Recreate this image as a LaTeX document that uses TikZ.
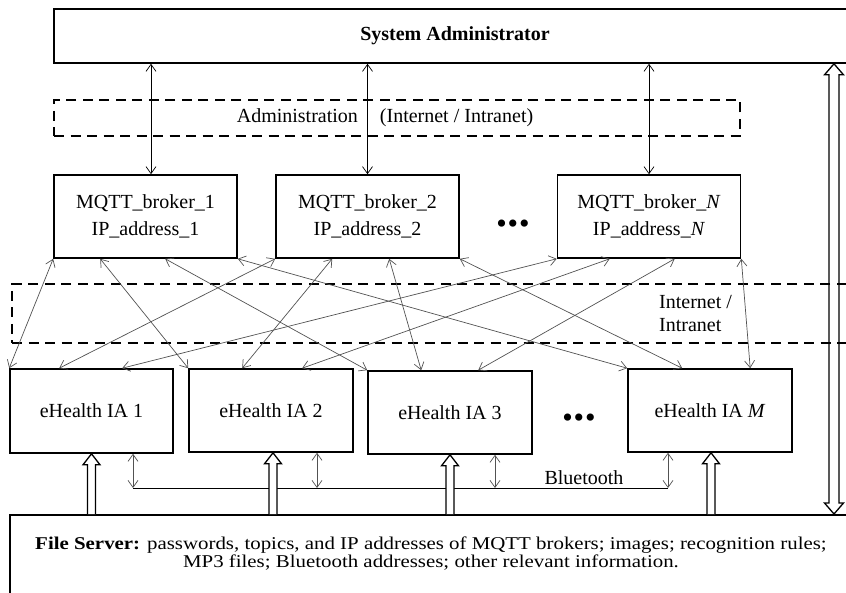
\documentclass[tikz,border=0pt]{standalone}
\usepackage{fontspec}
\setmainfont{Liberation Serif}
\usepackage{graphicx}
\usetikzlibrary{arrows.meta,calc}
\newcommand{\hollowup}[2]{%
  \draw[hollow, fill=white] ($(#1)+(-4,0)$) -- ($(#2)+(-4,11)$) -- ($(#2)+(-8.5,11)$) -- (#2) -- ($(#2)+(8.5,11)$) -- ($(#2)+(4,11)$) -- ($(#1)+(4,0)$);}
\newcommand{\hollowboth}[2]{%
  \draw[hollow] ($(#1)+(-5,-11)$) -- ($(#2)+(-5,11)$) -- ($(#2)+(-9.5,11)$) -- (#2) -- ($(#2)+(9.5,11)$) -- ($(#2)+(5,11)$) -- ($(#1)+(5,-11)$) -- ($(#1)+(9.5,-11)$) -- (#1) -- ($(#1)+(-9.5,-11)$) -- cycle;}
\begin{document}
\begin{tikzpicture}[x=1pt,y=-1pt,
  box/.style={draw, line width=1.6pt, inner sep=0pt, align=center, font=\fontsize{20}{27}\selectfont},
  zone/.style={draw, line width=2.6pt, dash pattern=on 10pt off 6.5pt, inner sep=0pt},
  txt/.style={inner sep=0pt, font=\fontsize{20}{23}\selectfont},
  dots/.style={inner sep=0pt, font=\fontsize{30}{30}\selectfont},
  bi/.style={line width=0.7pt, {Straight Barb[length=7pt,width=10pt]}-{Straight Barb[length=7pt,width=10pt]}},
  cross/.style={bi, draw=black!68},
  hollow/.style={line width=1.3pt, line join=miter}]
\useasboundingbox (0,0) rectangle (846,593);
\clip (0,0) rectangle (846,593);

% zones
\node[zone, minimum width=686pt, minimum height=36pt] (adm) at (397,118) {};
\node[txt] (admt) at (385,118) {Administration\hspace{22pt}(Internet / Intranet)};
\node[zone, minimum width=858pt, minimum height=59pt] (inet) at (441,313.5) {};
\node[txt, align=left, anchor=west] (inett) at (659,313.5) {Internet /\\Intranet};

% boxes
\node[box, minimum width=802pt, minimum height=54pt] (sa) at (455,36) {\textbf{System Administrator}};
\node[box, minimum width=183pt, minimum height=83pt] (b1) at (145.5,216.5) {MQTT\_broker\_1\\IP\_address\_1};
\node[box, minimum width=183pt, minimum height=83pt] (b2) at (367.5,216.5) {MQTT\_broker\_2\\IP\_address\_2};
\node[box, minimum width=183pt, minimum height=83pt] (bN) at (649,216.5) {MQTT\_broker\_\textit{N}\\IP\_address\_\textit{N}};
\node[dots] (d1) at (513,227) {•\hspace{1pt}•\hspace{1pt}•};

\node[box, minimum width=163pt, minimum height=84pt] (ia1) at (91.5,411) {eHealth IA 1};
\node[box, minimum width=164pt, minimum height=83pt] (ia2) at (271,410.5) {eHealth IA 2};
\node[box, minimum width=164pt, minimum height=83pt] (ia3) at (450,412.5) {eHealth IA 3};
\node[box, minimum width=164pt, minimum height=83pt] (iam) at (710,410.5) {eHealth IA \textit{M}};
\node[dots] (d2) at (579,421) {•\hspace{1pt}•\hspace{1pt}•};

\node[draw, line width=1.6pt, minimum width=839pt, minimum height=120pt, anchor=north west, inner sep=0pt] (fs) at (9,514) {};
\node[inner sep=0pt, font=\fontsize{18}{17}\selectfont] (fst) at (431,555) {\scalebox{1.16}[1]{\begin{tabular}{@{}c@{}}\textbf{File Server:} passwords, topics, and IP addresses of MQTT brokers; images; recognition rules;\\ MP3 files; Bluetooth addresses; other relevant information.\end{tabular}}};

% admin arrows
\path ([xshift=5.5pt]b1.north) coordinate (a1) (b2.north) coordinate (a2) (bN.north) coordinate (a3);
\draw[bi] (a1) -- (a1 |- sa.south);
\draw[bi] (a2) -- (a2 |- sa.south);
\draw[bi] (a3) -- (a3 |- sa.south);

% broker <-> IA connections
\draw[cross] (b1.south west) -- (ia1.north west);
\draw[cross] ([xshift=47pt]b1.south west) -- (ia2.north west);
\draw[cross] ([xshift=112pt]b1.south west) -- (ia3.north west);
\draw[cross] (b1.south east) -- (iam.north west);
\draw[cross] (b2.south west) -- ([xshift=50pt]ia1.north west);
\draw[cross] ([xshift=57pt]b2.south west) -- ([xshift=54pt]ia2.north west);
\draw[cross] ([xshift=114pt]b2.south west) -- ([xshift=54pt]ia3.north west);
\draw[cross] (b2.south east) -- ([xshift=55pt]iam.north west);
\draw[cross] (bN.south west) -- ([xshift=113pt]ia1.north west);
\draw[cross] ([xshift=53pt]bN.south west) -- ([xshift=114pt]ia2.north west);
\draw[cross] ([xshift=118pt]bN.south west) -- ([xshift=111pt]ia3.north west);
\draw[cross] (bN.south east) -- ([xshift=123pt]iam.north west);

% Bluetooth
\coordinate (bty) at (0,488);
\path ([xshift=41.5pt]ia1.south) coordinate (bt1t) ([xshift=46pt]ia2.south) coordinate (bt2t)
      ([xshift=45pt]ia3.south) coordinate (bt3t) ([xshift=-42pt]iam.south) coordinate (bt4t);
\draw[line width=0.8pt] (bt1t |- bty) -- (bt4t |- bty);
\draw[cross] (bt1t) -- (bt1t |- bty);
\draw[cross] (bt2t) -- (bt2t |- bty);
\draw[cross] (bt3t) -- (bt3t |- bty);
\draw[cross] (bt4t) -- (bt4t |- bty);
\node[txt] (btt) at (584,478) {Bluetooth};

% hollow arrows file server -> IA
\path (ia1.south) coordinate (h1t) ([xshift=2pt]ia2.south) coordinate (h2t)
      (ia3.south) coordinate (h3t) ([xshift=1pt]iam.south) coordinate (h4t);
\path (h1t |- fs.north) coordinate (h1b) (h2t |- fs.north) coordinate (h2b)
      (h3t |- fs.north) coordinate (h3b) (h4t |- fs.north) coordinate (h4b);
\hollowup{h1b}{h1t}
\hollowup{h2b}{h2t}
\hollowup{h3b}{h3t}
\hollowup{h4b}{h4t}

% right double arrow
\coordinate (rx) at (834,0);
\path (rx |- sa.south) coordinate (rt) (rx |- fs.north) coordinate (rb);
\hollowboth{rb}{rt}
\end{tikzpicture}
\end{document}
